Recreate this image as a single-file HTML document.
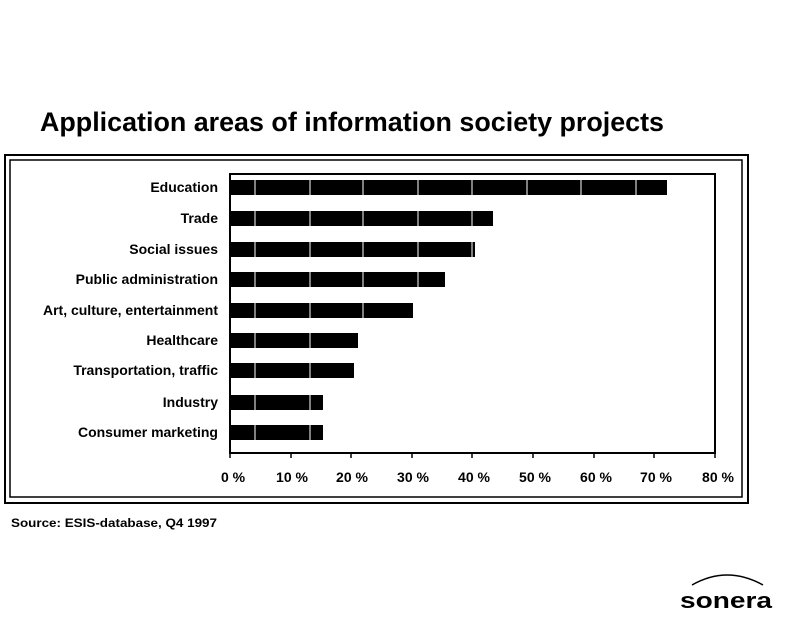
<!DOCTYPE html>
<html><head><meta charset="utf-8"><style>
html,body{margin:0;padding:0;background:#fff;}
svg{display:block;}
text{font-family:"Liberation Sans Narrow","Liberation Sans",sans-serif;font-weight:bold;fill:#000;}
</style></head><body>
<svg width="811" height="631" viewBox="0 0 811 631" xmlns="http://www.w3.org/2000/svg">
<text x="40" y="131" font-size="27" textLength="624" lengthAdjust="spacingAndGlyphs">Application areas of information society projects</text>
<!-- frames -->
<rect x="5" y="155" width="743" height="348" fill="none" stroke="#000" stroke-width="2"/>
<rect x="10" y="160" width="732" height="337" fill="none" stroke="#000" stroke-width="1.5"/>
<!-- plot area -->
<rect x="230" y="174" width="485" height="279" fill="none" stroke="#000" stroke-width="2"/>
<g fill="#000">
<rect x="230" y="180" width="437" height="15"/>
<rect x="230" y="211" width="263" height="15"/>
<rect x="230" y="242" width="245" height="15"/>
<rect x="230" y="272" width="215" height="15"/>
<rect x="230" y="303" width="183" height="15"/>
<rect x="230" y="333" width="128" height="15"/>
<rect x="230" y="363" width="124" height="15"/>
<rect x="230" y="395" width="93" height="15"/>
<rect x="230" y="425" width="93" height="15"/>
</g>
<g stroke="#fff" stroke-width="1">
<line x1="255" y1="176" x2="255" y2="451"/>
<line x1="310" y1="176" x2="310" y2="451"/>
<line x1="363" y1="176" x2="363" y2="451"/>
<line x1="418" y1="176" x2="418" y2="451"/>
<line x1="472" y1="176" x2="472" y2="451"/>
<line x1="527" y1="176" x2="527" y2="451"/>
<line x1="581" y1="176" x2="581" y2="451"/>
<line x1="636" y1="176" x2="636" y2="451"/>
</g>
<g stroke="#000" stroke-width="1.5">
<line x1="230" y1="453" x2="230" y2="458"/><line x1="291" y1="453" x2="291" y2="458"/>
<line x1="351" y1="453" x2="351" y2="458"/><line x1="412" y1="453" x2="412" y2="458"/>
<line x1="472" y1="453" x2="472" y2="458"/><line x1="533" y1="453" x2="533" y2="458"/>
<line x1="594" y1="453" x2="594" y2="458"/><line x1="654" y1="453" x2="654" y2="458"/>
<line x1="715" y1="453" x2="715" y2="458"/>
</g>
<g font-size="14" text-anchor="end">
<text x="218" y="192">Education</text>
<text x="218" y="223">Trade</text>
<text x="218" y="254">Social issues</text>
<text x="218" y="284">Public administration</text>
<text x="218" y="315">Art, culture, entertainment</text>
<text x="218" y="345">Healthcare</text>
<text x="218" y="375">Transportation, traffic</text>
<text x="218" y="407">Industry</text>
<text x="218" y="437">Consumer marketing</text>
</g>
<g font-size="14" text-anchor="middle">
<text x="233" y="482">0 %</text><text x="292" y="482">10 %</text>
<text x="352" y="482">20 %</text><text x="413" y="482">30 %</text>
<text x="474" y="482">40 %</text><text x="535" y="482">50 %</text>
<text x="596" y="482">60 %</text><text x="656" y="482">70 %</text>
<text x="718" y="482">80 %</text>
</g>
<text x="11" y="527" font-size="12" textLength="206" lengthAdjust="spacingAndGlyphs">Source: ESIS-database, Q4 1997</text>
<path d="M692 585 Q727 565 763 585" fill="none" stroke="#000" stroke-width="1.5"/>
<text x="680" y="608" font-size="22" textLength="92" lengthAdjust="spacingAndGlyphs">sonera</text>
</svg>
</body></html>
